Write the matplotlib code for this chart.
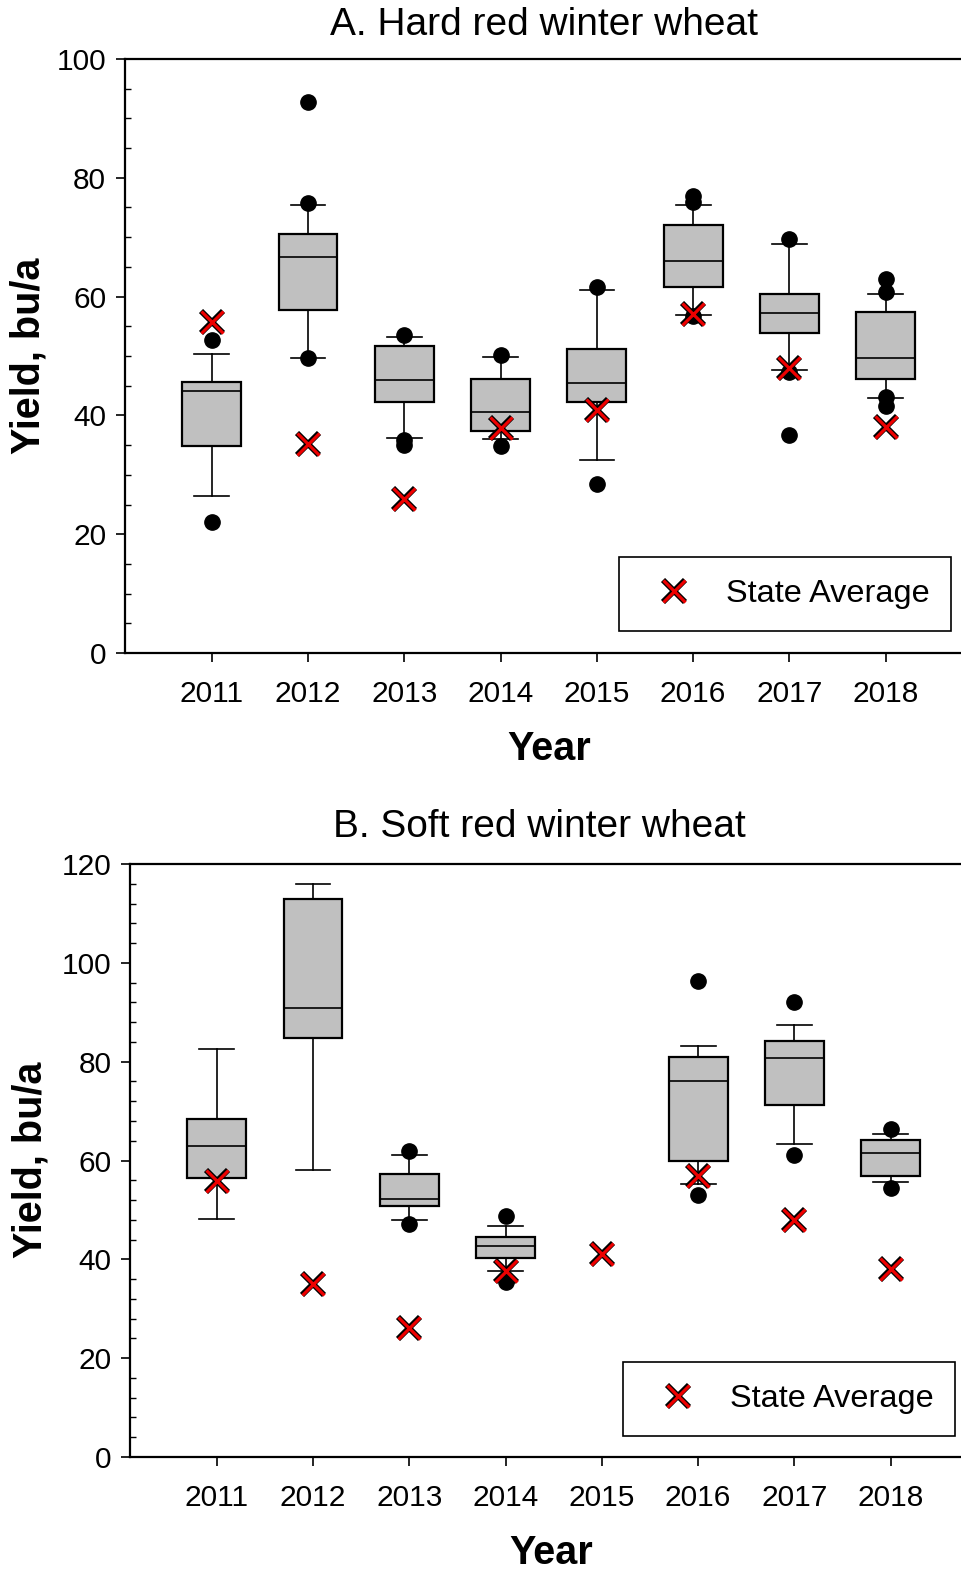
import numpy as np
import matplotlib
matplotlib.use('Agg')
import matplotlib.pyplot as plt
from matplotlib.lines import Line2D
from matplotlib.ticker import MultipleLocator

plt.rcParams['font.family'] = ['Liberation Sans', 'DejaVu Sans']

# Роки
years = [2011, 2012, 2013, 2014, 2015, 2016, 2017, 2018]

# A. Hard red winter wheat - квартилі, вуса та викиди
a_q1 = [34.9, 57.7, 42.2, 37.3, 42.3, 61.7, 53.8, 46.2]
a_med = [44.1, 66.7, 46.0, 40.6, 45.5, 66.0, 57.2, 49.6]
a_q3 = [45.7, 70.6, 51.7, 46.1, 51.2, 72.0, 60.5, 57.4]
a_lo = [26.5, 49.7, 36.2, 36.0, 32.5, 56.9, 47.7, 42.9]
a_hi = [50.3, 75.5, 53.2, 49.9, 61.1, 75.4, 68.8, 60.4]
a_out = [[52.7, 22.1], [92.8, 75.8, 49.7], [53.5, 35.9, 35.1], [50.1, 34.9],
         [61.7, 28.5], [77.0, 75.9, 56.8], [69.7, 47.3, 36.7], [63.0, 60.7, 43.1, 41.5]]
a_state = [55.7, 35.2, 26.0, 37.8, 40.9, 57.0, 47.9, 38.0]

# B. Soft red winter wheat (2015 - немає даних)
b_q1 = [56.4, 84.7, 50.7, 40.3, None, 59.9, 71.3, 56.8]
b_med = [63.0, 90.8, 52.3, 42.6, None, 76.0, 80.7, 61.6]
b_q3 = [68.4, 112.9, 57.3, 44.6, None, 80.9, 84.1, 64.1]
b_lo = [48.2, 58.1, 48.0, 37.6, None, 55.2, 63.4, 55.7]
b_hi = [82.6, 115.9, 61.1, 46.8, None, 83.2, 87.5, 65.4]
b_out = [[], [], [61.9, 47.2], [48.7, 35.4], [], [96.4, 53.1], [92.0, 61.1], [66.3, 54.4]]
b_state = [55.8, 35.1, 26.1, 37.6, 41.0, 56.9, 47.9, 38.0]

W, H = 961, 1573
fig = plt.figure(figsize=(W / 100, H / 100), dpi=100)


def draw_panel(rect, q1, med, q3, lo, hi, out, state, ymax, yminor, title, title_xy,
               ylab_xy, xlab_xy, leg_xy):
    ax = fig.add_axes(rect)
    stats, pos = [], []
    for i, y in enumerate(years):
        if q1[i] is None:
            continue
        stats.append(dict(med=med[i], q1=q1[i], q3=q3[i], whislo=lo[i], whishi=hi[i],
                          fliers=out[i]))
        pos.append(y)
    ax.bxp(stats, positions=pos, widths=0.61, patch_artist=True, manage_ticks=False,
           boxprops=dict(facecolor='#c0c0c0', edgecolor='black', linewidth=1.6),
           medianprops=dict(color='black', linewidth=1.2),
           whiskerprops=dict(color='black', linewidth=1.2),
           capprops=dict(color='black', linewidth=1.2),
           capwidths=0.36,
           flierprops=dict(marker='o', markerfacecolor='black', markeredgecolor='black',
                           markersize=11))
    # середнє по штату - червоний хрестик з чорним контуром
    ax.plot(years, state, ls='none', marker='x', color='black', ms=16, mew=4.2, zorder=5)
    ax.plot(years, state, ls='none', marker='x', color='#ee0000', ms=16, mew=2.3, zorder=6)

    ax.set_xlim(2010.1, 2019.0)
    ax.set_ylim(0, ymax)
    ax.set_xticks(years)
    ax.set_xticklabels([str(y) for y in years])
    ax.yaxis.set_major_locator(MultipleLocator(20))
    ax.yaxis.set_minor_locator(MultipleLocator(yminor))
    ax.tick_params(axis='both', which='major', direction='out', length=6.5, width=1.2,
                   labelsize=21.5)
    ax.tick_params(axis='x', which='major', pad=13)
    ax.tick_params(axis='y', which='major', pad=7)
    ax.tick_params(axis='y', which='minor', direction='in', length=4, width=1.0)
    ax.tick_params(axis='x', which='minor', bottom=False)
    ax.spines['right'].set_visible(False)
    for s in ['left', 'bottom', 'top']:
        ax.spines[s].set_linewidth(1.6)

    fig.text(title_xy[0] / W, 1 - title_xy[1] / H, title, fontsize=28,
             ha='center', va='center')
    fig.text(ylab_xy[0] / W, 1 - ylab_xy[1] / H, 'Yield, bu/a', fontsize=28.5,
             fontweight='bold', rotation=90, ha='center', va='center')
    fig.text(xlab_xy[0] / W, 1 - xlab_xy[1] / H, 'Year', fontsize=28.5,
             fontweight='bold', ha='center', va='center')

    h1 = Line2D([], [], ls='none', marker='x', color='black', ms=16, mew=4.2)
    h2 = Line2D([], [], ls='none', marker='x', color='#ee0000', ms=16, mew=2.3)
    leg = ax.legend([(h1, h2)], ['State Average'], loc='upper left',
                    bbox_to_anchor=(leg_xy[0] / W, 1 - leg_xy[1] / H),
                    bbox_transform=fig.transFigure, borderaxespad=0, fontsize=23.4,
                    fancybox=False, framealpha=1, edgecolor='black', borderpad=0.68,
                    handlelength=2.0, handletextpad=0.6, numpoints=1)
    leg.get_frame().set_linewidth(1.2)
    return ax


w_ax = 8.9 * 96.3 / W
draw_panel([125 / W, 1 - 653 / H, w_ax, (653 - 59) / H],
           a_q1, a_med, a_q3, a_lo, a_hi, a_out, a_state, 100, 5,
           'A. Hard red winter wheat', (544, 25), (29, 356), (549, 749), (619, 557))
draw_panel([130 / W, 1 - 1457 / H, w_ax, (1457 - 864) / H],
           b_q1, b_med, b_q3, b_lo, b_hi, b_out, b_state, 120, 4,
           'B. Soft red winter wheat', (539, 827), (31, 1160), (551, 1553), (623, 1362))

plt.savefig('out.png', dpi=100)
